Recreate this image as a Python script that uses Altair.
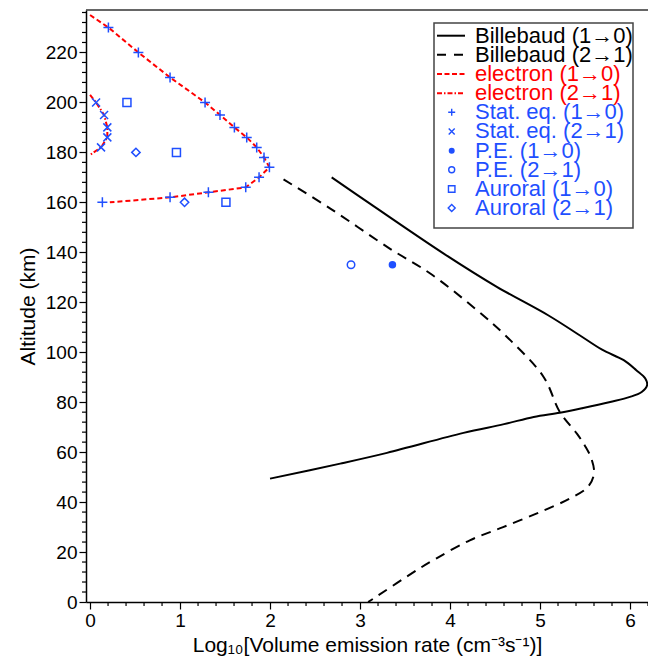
import altair as alt
import pandas as pd

FONT = "Liberation Sans"
BLUE = "#1f4fff"
RED = "#ff0000"

# ---------------- data ----------------
# Billebaud (1->0), solid black
bil10_x = [2.685, 3.11, 3.93, 4.52, 5.09, 5.44, 5.69, 5.93, 6.07, 6.17, 6.19, 6.13, 6.00, 5.78, 5.48, 5.22, 4.93, 4.60, 4.15, 3.30, 2.78, 2.00]
bil10_y = [170.0, 159.5, 139.5, 126.2, 114.8, 106.8, 101.0, 96.8, 92.8, 89.5, 86.8, 84.1, 82.1, 80.1, 77.7, 75.8, 74.1, 71.2, 67.7, 59.7, 55.4, 49.4]
# Billebaud (2->1), dashed black
bil21_x = [2.15, 2.67, 3.33, 3.78, 4.30, 4.65, 5.04, 5.22, 5.41, 5.50, 5.57, 5.60, 5.53, 5.33, 5.00, 4.59, 4.22, 3.85, 3.62, 3.15, 3.09]
bil21_y = [169.2, 157.5, 141.5, 131.5, 116.8, 105.5, 90.1, 76.1, 67.4, 62.5, 57.5, 51.4, 46.0, 41.4, 36.0, 30.0, 24.7, 17.5, 12.5, 1.4, 0.0]
# electron (1->0), red dashed
el10_x = [0.0, 0.204, 0.537, 0.889, 1.278, 1.444, 1.604, 1.741, 1.852, 1.933, 1.993, 1.878, 1.730, 1.315, 0.889, 0.22]
el10_y = [235, 230, 220, 210, 200, 195, 190, 186, 182, 178, 174, 170, 166, 164, 162, 160]
# electron (2->1), red dash-dot
el21_x = [0.0, 0.067, 0.156, 0.192, 0.192, 0.122, 0.0]
el21_y = [203, 200, 195, 190, 186, 182, 179]
# Stat. eq. markers
st10_x = [0.204, 0.537, 0.889, 1.278, 1.444, 1.604, 1.741, 1.852, 1.933, 1.993, 1.878, 1.730, 1.315, 0.889, 0.137]
st10_y = [230, 220, 210, 200, 195, 190, 186, 182, 178, 174, 170, 166, 164, 162, 160]
st21_x = [0.067, 0.156, 0.192, 0.192, 0.122]
st21_y = [200, 195, 190, 186, 182]
# P.E. markers
pe10_x = [3.36]
pe10_y = [135]
pe21_x = [2.90]
pe21_y = [135]
# Auroral markers
au10_x = [0.41, 0.96, 1.51]
au10_y = [200, 180, 160]
au21_x = [0.51, 1.05]
au21_y = [180, 160]

legend_labels = ["Billebaud (1→0)", "Billebaud (2→1)", "electron (1→0)", "electron (2→1)",
                 "Stat. eq. (1→0)", "Stat. eq. (2→1)", "P.E. (1→0)", "P.E. (2→1)",
                 "Auroral (1→0)", "Auroral (2→1)"]
legend_colors = ["black", "black", RED, RED, BLUE, BLUE, BLUE, BLUE, BLUE, BLUE]

# tick positions
x_major = [0, 1, 2, 3, 4, 5, 6]
x_minor = [0.2, 0.4, 0.6, 0.8, 1.2, 1.4, 1.6, 1.8, 2.2, 2.4, 2.6, 2.8, 3.2, 3.4, 3.6, 3.8,
           4.2, 4.4, 4.6, 4.8, 5.2, 5.4, 5.6, 5.8, 6.2]
y_major = [0, 20, 40, 60, 80, 100, 120, 140, 160, 180, 200, 220]
y_minor = [v for v in range(4, 237, 4) if v % 20 != 0]

X_TITLE = "Log₁₀[Volume emission rate (cm⁻³s⁻¹)]"
Y_TITLE = "Altitude (km)"

PLUS = "M-1,0H1M0,-1V1"
CROSS = "M-1,-1L1,1M-1,1L1,-1"

W, H = 562, 592

# ---------------- helpers ----------------
xs = alt.Scale(domain=[-0.045, 6.2], nice=False, zero=False)
ys = alt.Scale(domain=[0, 237], nice=False, zero=False)


def frame(xv, yv):
    return pd.DataFrame({"x": xv, "y": yv, "i": list(range(len(xv)))})


def line(xv, yv, color, dash=None, width=2.0, xaxis=None, yaxis=None, interp="linear"):
    kw = dict(color=color, strokeWidth=width, clip=True, interpolate=interp)
    if dash is not None:
        kw["strokeDash"] = dash
    return alt.Chart(frame(xv, yv)).mark_line(**kw).encode(
        x=alt.X("x:Q", scale=xs, axis=xaxis),
        y=alt.Y("y:Q", scale=ys, axis=yaxis),
        order=alt.Order("i:Q"),
    )


def points(xv, yv, shape, size, filled=False):
    kw = dict(shape=shape, size=size, opacity=1, strokeWidth=1.5, clip=True)
    if filled:
        kw.update(filled=True, color=BLUE)
    else:
        kw.update(filled=False, stroke=BLUE, fill="transparent")
    return alt.Chart(frame(xv, yv)).mark_point(**kw).encode(
        x=alt.X("x:Q", scale=xs, axis=None),
        y=alt.Y("y:Q", scale=ys, axis=None),
    )


axis_common = dict(grid=False, labelFont=FONT, titleFont=FONT, labelColor="black", titleColor="black",
                   tickColor="black", domainColor="black", labelFlush=False, labelOverlap=False,
                   titleFontWeight="normal", tickWidth=1.2, domainWidth=1.5, labelFontSize=19,
                   titleFontSize=21, labelPadding=2, format="d", tickSize=7)

ax_x = alt.Axis(values=x_major, orient="bottom", title=X_TITLE, titlePadding=4, **axis_common)
ax_y = alt.Axis(values=y_major, orient="left", title=Y_TITLE, titlePadding=7, **axis_common)

# ---------------- data layers ----------------
layers = [
    line(bil10_x, bil10_y, "black", None, 2.0, ax_x, ax_y, "catmull-rom"),
    line(bil21_x, bil21_y, "black", [10, 7], 2.0, None, None, "catmull-rom"),
    line(el10_x, el10_y, RED, [5, 3], 2.0),
    line(el21_x, el21_y, RED, [5, 2, 1.5, 2], 2.0),
    points(st10_x, st10_y, PLUS, 100),
    points(st21_x, st21_y, CROSS, 64),
    points(pe10_x, pe10_y, "circle", 56, filled=True),
    points(pe21_x, pe21_y, "circle", 56),
    points(au10_x, au10_y, "square", 64),
    points(au21_x, au21_y, "diamond", 70),
]

# minor ticks, placed through the same scales (outward, like the major ticks)
x_minor_ticks = alt.Chart(pd.DataFrame({"v": x_minor})).mark_rule(color="black", strokeWidth=1.2).encode(
    x=alt.X("v:Q", scale=xs, axis=None), y=alt.value(H), y2=alt.value(H + 4))
y_minor_ticks = alt.Chart(pd.DataFrame({"v": y_minor})).mark_rule(color="black", strokeWidth=1.2).encode(
    y=alt.Y("v:Q", scale=ys, axis=None), x=alt.value(-4), x2=alt.value(0))
layers += [x_minor_ticks, y_minor_ticks]

top_border = alt.Chart(pd.DataFrame({"a": [0]})).mark_rule(color="#333333", strokeWidth=1.5).encode(
    x=alt.value(0), x2=alt.value(W), y=alt.value(0))
layers.append(top_border)

# ---------------- legend (drawn as marks) ----------------
leg = pd.DataFrame({"label": legend_labels, "row": list(range(len(legend_labels))), "color": legend_colors})
ly = alt.Y("row:Q", scale=alt.Scale(domain=[0, 9], range=[25.7, 198.1], nice=False, zero=False), axis=None)

box = alt.Chart(leg).transform_filter(alt.datum.row == 0).mark_rect(
    fill="white", stroke="#444444", strokeWidth=1.5).encode(
    x=alt.value(348), x2=alt.value(547), y=alt.value(13), y2=alt.value(218))
layers.append(box)

leg_text = alt.Chart(leg).mark_text(align="left", baseline="middle", font=FONT, fontSize=22).encode(
    x=alt.value(389), y=ly, text="label:N", color=alt.Color("color:N", scale=None))
layers.append(leg_text)

leg_lines = [(0, "black", None), (1, "black", [9, 8]), (2, RED, [5, 2.5]), (3, RED, [5, 2, 1.5, 2])]
for r, c, d in leg_lines:
    kw = dict(color=c, strokeWidth=2)
    if d is not None:
        kw["strokeDash"] = d
    layers.append(alt.Chart(leg).transform_filter(alt.datum.row == r).mark_rule(**kw).encode(
        x=alt.value(351), x2=alt.value(379), y=ly))

leg_pts = [(4, PLUS, 49, False), (5, CROSS, 36, False), (6, "circle", 36, True),
           (7, "circle", 36, False), (8, "square", 42, False), (9, "diamond", 49, False)]
for r, s, sz, f in leg_pts:
    kw = dict(shape=s, size=sz, opacity=1, strokeWidth=1.4)
    if f:
        kw.update(filled=True, color=BLUE)
    else:
        kw.update(filled=False, stroke=BLUE, fill="transparent")
    layers.append(alt.Chart(leg).transform_filter(alt.datum.row == r).mark_point(**kw).encode(
        x=alt.value(365.7), y=ly))

chart = alt.layer(*layers).resolve_scale(y="independent").resolve_axis(
    x="independent", y="independent").properties(
    width=W, height=H,
    autosize=alt.AutoSizeParams(type="none"),
    padding={"left": 86, "top": 10, "right": 0, "bottom": 60},
).configure_view(stroke=None)

chart.save("out.html", embed_options={"renderer": "svg", "actions": False})
